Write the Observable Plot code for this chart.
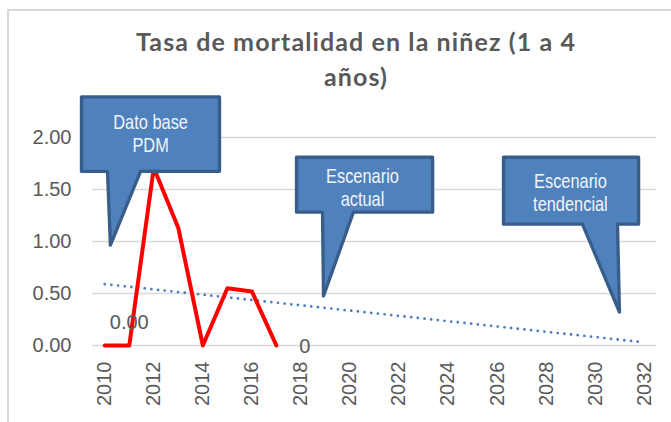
<!DOCTYPE html>
<html><head><meta charset="utf-8">
<script src="https://cdn.jsdelivr.net/npm/d3@7"></script>
<script src="https://cdn.jsdelivr.net/npm/@observablehq/plot@0.6"></script>
<style>
body{margin:0;background:#fff;}
#chart{position:relative;width:671px;height:422px;overflow:hidden;background:#fff;}
#border{position:absolute;left:7px;top:9px;width:700px;height:500px;border-top:2px solid #d9d9d9;border-left:2px solid #d9d9d9;}
#title{position:absolute;left:0;top:24px;width:712px;text-align:center;font-family:Lato,sans-serif;font-weight:700;font-size:25px;letter-spacing:1.1px;line-height:35px;color:#595959;}
#plot{position:absolute;left:0;top:95px;}
#plot svg{overflow:visible;}
</style></head>
<body>
<div id="chart"><div id="border"></div>
<div id="title">Tasa de mortalidad en la niñez (1 a 4<br>años)</div>
<div id="plot"></div></div>
<script>
// Data
const years = [2010, 2011, 2012, 2013, 2014, 2015, 2016, 2017];
const rates = [0, 0, 1.71, 1.13, 0, 0.55, 0.52, 0];
const trendYears = [2010, 2032];
const trendRates = [0.59, 0.03];
const yTicks = [0, 0.5, 1, 1.5, 2];
const xTicks = [2010, 2012, 2014, 2016, 2018, 2020, 2022, 2024, 2026, 2028, 2030, 2032];
const labelYears = [2011, 2018];
const labelTexts = ["0.00", "0"];
const calloutTexts = ["Dato base\nPDM", "Escenario\nactual", "Escenario\ntendencial"];
// callout anchor (text centre) and outline vertices, in data units (year, rate)
const calloutTextX = [2011.87, 2020.51, 2028.99];
const calloutTextY = [2.04, 1.52, 1.475];
const callout1X = [2009.05, 2014.68, 2014.68, 2011.46, 2010.23, 2010.11, 2009.05, 2009.05];
const callout1Y = [2.39, 2.39, 1.675, 1.675, 0.965, 1.675, 1.675, 2.39];
const callout2X = [2017.82, 2023.37, 2023.37, 2020.14, 2018.92, 2018.88, 2017.82, 2017.82];
const callout2Y = [1.81, 1.81, 1.282, 1.282, 0.476, 1.282, 1.282, 1.81];
const callout3X = [2026.26, 2031.77, 2031.77, 2030.91, 2030.99, 2029.48, 2026.26, 2026.26];
const callout3Y = [1.81, 1.81, 1.167, 1.167, 0.322, 1.167, 1.167, 1.81];

const actual = years.map((x, i) => ({x, y: rates[i]}));
const trend = trendYears.map((x, i) => ({x, y: trendRates[i]}));
const callouts = [[callout1X, callout1Y], [callout2X, callout2Y], [callout3X, callout3Y]]
  .flatMap(([xs, ys], k) => xs.map((x, i) => ({k, x, y: ys[i]})));
const calloutLabels = calloutTexts.map((t, i) => ({t, x: calloutTextX[i], y: calloutTextY[i]}));

const grey = "#595959";
const chart = Plot.plot({
  width: 671, height: 327,
  marginTop: 42, marginBottom: 77, marginLeft: 92, marginRight: 15,
  style: {fontFamily: "'Liberation Sans', Arial, sans-serif", fontSize: "20px", color: grey, background: "transparent", overflow: "visible"},
  x: {domain: [2009.5, 2032.5]},
  y: {domain: [0, 2]},
  marks: [
    Plot.gridY(yTicks, {stroke: "#d9d9d9", strokeOpacity: 1, strokeWidth: 1.3}),
    Plot.axisY({ticks: yTicks, tickSize: 0, tickPadding: 21, tickFormat: d => d.toFixed(2), label: null, fontSize: 20, fill: grey}),
    Plot.axisX({ticks: xTicks, tickSize: 0, tickPadding: 16, tickRotate: -90, tickFormat: d => String(d), label: null, fontSize: 20, fill: grey}),
    Plot.line(trend, {x: "x", y: "y", stroke: "#4a7ebb", strokeWidth: 2.8, strokeDasharray: "0 6.7", strokeLinecap: "round"}),
    Plot.line(actual, {x: "x", y: "y", stroke: "#ff0000", strokeWidth: 4, strokeLinejoin: "round"}),
    Plot.text([0], {x: labelYears[0], y: 0, text: () => labelTexts[0], dy: -23, fontSize: 20, fill: grey}),
    Plot.text([1], {x: labelYears[1], y: 0, text: () => labelTexts[1], dx: 4, dy: 1, fontSize: 20, fill: grey}),
    Plot.line(callouts, {x: "x", y: "y", z: "k", fill: "#4f81bd", stroke: "#385d8a", strokeWidth: 3.3, strokeLinejoin: "round"}),
    Plot.text(calloutLabels, {x: "x", y: "y", text: "t", lineAnchor: "middle", lineHeight: 1.15, fill: "#f2f5fa",
      fontFamily: "'Liberation Sans', Arial, sans-serif", fontSize: 20})
  ]
});
// condense the callout text horizontally (narrow face not available)
const textGroups = chart.querySelectorAll('g[aria-label="text"]');
const calloutGroup = textGroups[textGroups.length - 1];
calloutGroup.querySelectorAll("text").forEach(t => {
  const tr = t.getAttribute("transform") || "";
  t.setAttribute("transform", tr + " scale(0.82,1)");
});
document.getElementById("plot").appendChild(chart);
</script>
</body></html>
